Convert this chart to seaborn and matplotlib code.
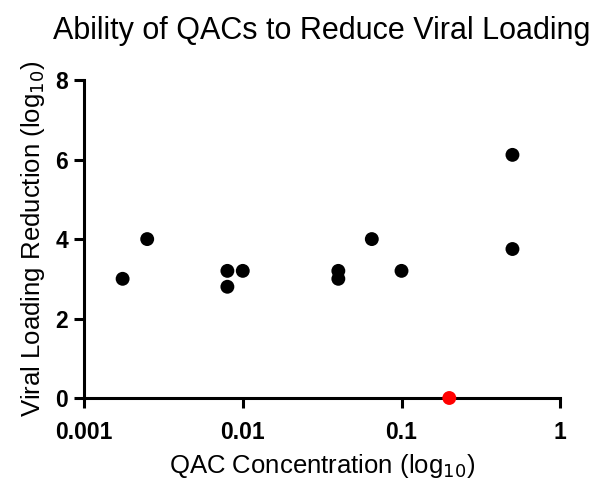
import numpy as np
import pandas as pd
import seaborn as sns
from matplotlib import pyplot as plt
from matplotlib.ticker import FixedLocator, FixedFormatter, NullLocator

# QAC concentration vs viral loading reduction
concentration = [0.00175, 0.0025, 0.008, 0.008, 0.01, 0.04, 0.04, 0.065, 0.1, 0.5, 0.5, 0.2]
reduction = [3.0, 4.0, 3.2, 2.8, 3.2, 3.2, 3.0, 4.0, 3.2, 6.12, 3.75, 0.0]
group = ["effective"] * 11 + ["none"]

x_ticks = [0.001, 0.01, 0.1, 1]
x_tick_labels = ["0.001", "0.01", "0.1", "1"]
y_ticks = [0, 2, 4, 6, 8]

df = pd.DataFrame({"Concentration": concentration, "Reduction": reduction, "Group": group})

sns.set_style("ticks")
plt.rcParams['font.family'] = ['Liberation Sans', 'DejaVu Sans']

fig = plt.figure(figsize=(5.96, 4.83), dpi=100)
ax = fig.add_axes([0.141, 0.176, 0.799, 0.658])

sns.scatterplot(data=df, x="Concentration", y="Reduction", hue="Group",
                palette={"effective": "black", "none": "#ff0000"},
                s=100, linewidth=0, legend=False, clip_on=False, zorder=5, ax=ax)

ax.set_xscale("log")
ax.set_xlim(0.001, 1)
ax.set_ylim(0, 8)
ax.xaxis.set_major_locator(FixedLocator(x_ticks))
ax.xaxis.set_major_formatter(FixedFormatter(x_tick_labels))
ax.xaxis.set_minor_locator(NullLocator())
ax.set_yticks(y_ticks)

sns.despine(ax=ax)
for side in ["left", "bottom"]:
    ax.spines[side].set_linewidth(2.2)
ax.tick_params(axis="both", which="major", length=7.5, width=2.2, labelsize=16.5,
               color="black", labelcolor="black")
ax.tick_params(axis="x", pad=9)
ax.tick_params(axis="y", pad=4)
for lab in ax.get_xticklabels() + ax.get_yticklabels():
    lab.set_fontweight("bold")
for side in ["left", "bottom"]:
    ax.spines[side].set_color("black")

ax.set_xlabel("QAC Concentration (log$_{10}$)", fontsize=18.5, labelpad=6, color="black")
ax.set_ylabel("Viral Loading Reduction (log$_{10}$)", fontsize=18.5, labelpad=6, color="black")
ax.set_title("Ability of QACs to Reduce Viral Loading", fontsize=22, pad=30, color="black")

plt.savefig("out.png", dpi=100)
